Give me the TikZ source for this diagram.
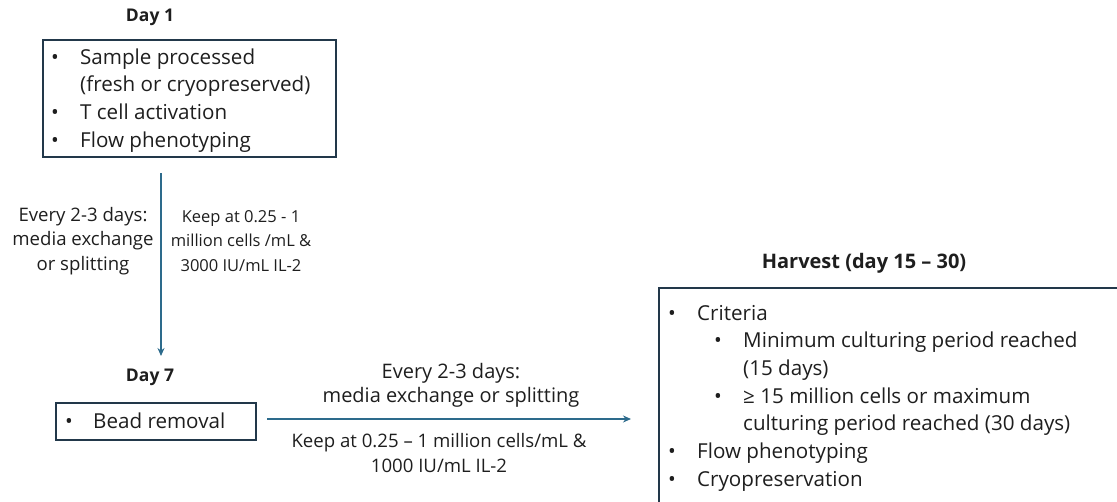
\documentclass[tikz,border=0pt]{standalone}
\usepackage{fontspec}
\setmainfont{Open Sans}
\usetikzlibrary{arrows.meta}
\definecolor{arrowblue}{HTML}{2D6B8C}
\definecolor{boxline}{HTML}{22384A}
\definecolor{txt}{HTML}{1E1E1E}
\tikzset{
  box/.style={draw=boxline, line width=1.6pt, rectangle, inner sep=0pt},
  title/.style={font=\fontsize{17.5}{22}\selectfont\bfseries, text=txt, inner sep=0pt},
  bigtitle/.style={font=\fontsize{20}{24}\selectfont\bfseries, text=txt, inner sep=0pt},
  body/.style={font=\fontsize{20.6}{27.7}\selectfont, text=txt, inner sep=0pt, anchor=base west, align=left},
  note/.style={font=\fontsize{18.6}{24.2}\selectfont, text=txt, inner sep=0pt, align=center},
  notesm/.style={font=\fontsize{16.5}{24.2}\selectfont, text=txt, inner sep=0pt, align=center},
  notebig/.style={font=\fontsize{20}{24.2}\selectfont, text=txt, inner sep=0pt, align=center},
  flow/.style={draw=arrowblue, line width=1.5pt, -{Stealth[length=8pt,width=7pt]}},
}
\begin{document}
\begin{tikzpicture}[x=1pt,y=-1pt]
\useasboundingbox (0,0) rectangle (1117,501);
\clip (0,0) rectangle (1117,501);
% titles
\node[title] (t1) at (150,17) {Day 1};
\node[title] (t7) at (150,377) {Day 7};
\node[bigtitle] (th) at (864,263) {Harvest (day 15 – 30)};
% boxes
\node[box, anchor=north west, minimum width=293pt, minimum height=117pt] (day1) at (42,39) {};
\node[box, anchor=north west, minimum width=200pt, minimum height=37pt] (day7) at (55,402) {};
\node[box, anchor=north west, minimum width=480pt, minimum height=225pt] (harv) at (658,287) {};
% box texts
\node[body] (d1txt) at (51,64) {\begin{tabular}[t]{@{}p{29pt}@{}l@{}}
•&Sample processed\\
 &(fresh or cryopreserved)\\
•&T cell activation\\
•&Flow phenotyping
\end{tabular}};
\node[body] (d7txt) at (65,428) {\begin{tabular}[t]{@{}p{28pt}@{}l@{}}
•&Bead removal
\end{tabular}};
\node[body] (hvtxt) at (668,320) {\begin{tabular}[t]{@{}p{29pt}@{}p{17pt}@{}p{29pt}@{}l@{}}
•&\multicolumn{3}{@{}l@{}}{Criteria}\\
 & &•&Minimum culturing period reached\\
 & & &(15 days)\\
 & &•&≥ 15 million cells or maximum\\
 & & &culturing period reached (30 days)\\
•&\multicolumn{3}{@{}l@{}}{Flow phenotyping}\\
•&\multicolumn{3}{@{}l@{}}{Cryopreservation}
\end{tabular}};
% arrows
\coordinate (a1s) at (161,173);
\coordinate (a1e) at (161,356);
\draw[flow] (a1s) -- (a1e);
\coordinate (a2s) at (267,419);
\coordinate (a2e) at (631,419);
\draw[flow] (a2s) -- (a2e);
% notes
\node[note] (n1) at (83,241) {Every 2-3 days:\\media exchange\\or splitting};
\node[notesm] (n2) at (241,241) {Keep at 0.25 - 1\\million cells /mL \&\\3000 IU/mL IL-2};
\node[notebig] (n3) at (451,385) {Every 2-3 days:\\media exchange or splitting};
\node[note] (n4) at (439,453) {Keep at 0.25 – 1 million cells/mL \&\\1000 IU/mL IL-2};
\end{tikzpicture}
\end{document}
